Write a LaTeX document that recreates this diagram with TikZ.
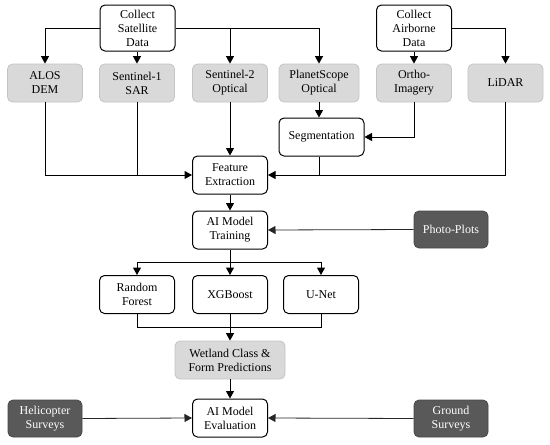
\documentclass[tikz,border=0pt]{standalone}
\usepackage{fontspec}
\setmainfont{Liberation Serif}
\usetikzlibrary{arrows.meta}
\definecolor{lgfill}{HTML}{D9D9D9}
\definecolor{lgdraw}{HTML}{C4C4C4}
\definecolor{dgfill}{HTML}{595959}
\begin{document}
\begin{tikzpicture}[x=1pt,y=-1pt,
  every node/.style={font=\fontsize{12}{14}\selectfont, align=center, inner sep=0pt},
  wbox/.style={draw=black, fill=white, line width=1pt, rounded corners=5pt, minimum width=75pt, minimum height=38pt},
  gbox/.style={draw=lgdraw, fill=lgfill, line width=0.8pt, rounded corners=5pt, minimum width=75pt, minimum height=38pt},
  dbox/.style={draw=dgfill!80!black, fill=dgfill, text=white, line width=0.8pt, rounded corners=5pt, minimum width=74pt, minimum height=37pt},
  conn/.style={line width=1pt, draw=black},
  arr/.style={conn, -{Triangle[length=7.5pt,width=8pt]}},
  thinarr/.style={line width=0.8pt, draw=black!85, -{Triangle[length=7.5pt,width=8pt]}}
]
\useasboundingbox (0,0) rectangle (550,445);

% top row
\node[wbox, minimum height=46pt] (sat) at (137.5,28) {Collect\\Satellite\\Data};
\node[wbox, minimum height=46pt] (air) at (414,28) {Collect\\Airborne\\Data};

% second row
\node[gbox] (alos) at (45,83) {ALOS\\DEM};
\node[gbox] (s1) at (137,83) {Sentinel-1\\SAR};
\node[gbox] (s2) at (230,83) {Sentinel-2\\Optical};
\node[gbox, minimum width=80pt] (planet) at (319,83) {PlanetScope\\Optical};
\node[gbox] (ortho) at (414,83) {Ortho-\\Imagery};
\node[gbox] (lidar) at (505.5,83) {LiDAR};

\node[wbox, minimum width=85pt] (seg) at (321.5,137) {Segmentation};
\node[wbox] (fe) at (230,175) {Feature\\Extraction};
\node[wbox] (amt) at (230,230) {AI Model\\Training};
\node[dbox] (photo) at (451,229.5) {Photo-Plots};

\node[wbox] (rf) at (137,294.5) {Random\\Forest};
\node[wbox] (xgb) at (230,294.5) {XGBoost};
\node[wbox] (unet) at (321,294.5) {U-Net};

\node[gbox, minimum width=110pt] (wet) at (230,360) {Wetland Class \&\\Form Predictions};
\node[wbox] (eval) at (230,418) {AI Model\\Evaluation};
\node[dbox] (heli) at (45,418.5) {Helicopter\\Surveys};
\node[dbox] (ground) at (451,418.5) {Ground\\Surveys};

\coordinate (br) at (230,262);
\coordinate (mg) at (230,327);

% satellite
\draw[arr] (sat.west) -| (alos.north);
\draw[arr] (sat.south -| s1.north) -- (s1.north);
\draw[arr] (sat.east) -| (planet.north);
\draw[arr] (sat.east -| s2.north) -- (s2.north);
% airborne
\draw[arr] (air.south) -- (ortho.north);
\draw[arr] (air.east) -| (lidar.north);
% segmentation
\draw[arr] (planet.south) -- (planet.south |- seg.north);
\draw[arr] (ortho.south) |- (seg.east);
% feature extraction
\draw[arr] (alos.south) |- (fe.west);
\draw[conn] (s1.south) -- (s1.south |- fe.west);
\draw[arr] (s2.south) -- (fe.north);
\draw[arr] (lidar.south) |- (fe.east);
\draw[conn] (seg.south -| planet.south) -- (planet.south |- fe.east);
% training
\draw[arr] (fe.south) -- (amt.north);
\draw[thinarr] (photo.west) -- (amt.east);
\draw[conn] (amt.south) -- (br);
\draw[conn] (br -| rf.north) -- (br -| unet.north);
\draw[arr] (br -| rf.north) -- (rf.north);
\draw[arr] (br) -- (xgb.north);
\draw[arr] (br -| unet.north) -- (unet.north);
% merge
\draw[conn] (rf.south) -- (mg -| rf.south) -- (mg -| unet.south) -- (unet.south);
\draw[arr] (xgb.south) -- (wet.north);
\draw[arr] (wet.south) -- (eval.north);
\draw[thinarr] (heli.east) -- (eval.west);
\draw[thinarr] (ground.west) -- (eval.east);
\end{tikzpicture}
\end{document}
